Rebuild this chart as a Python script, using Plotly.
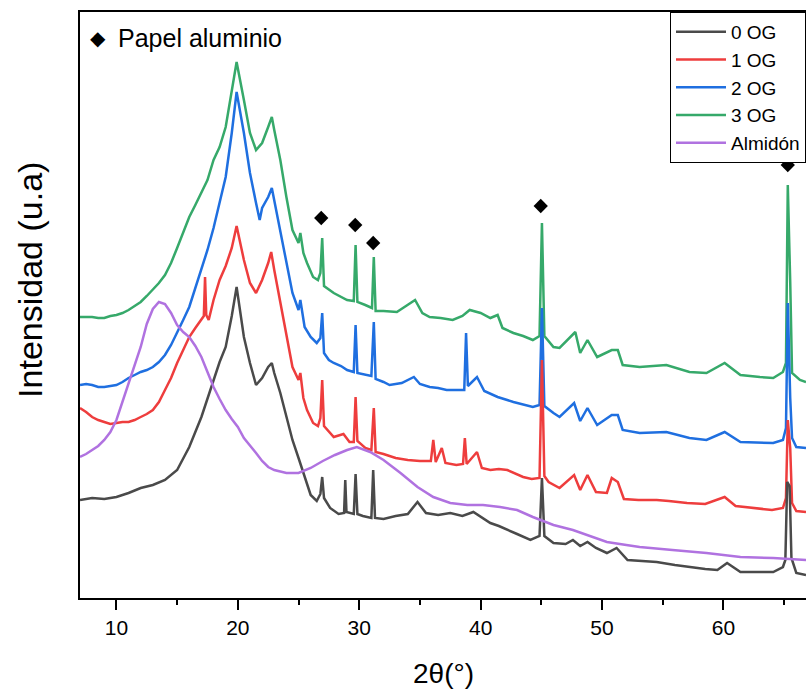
import plotly.graph_objects as go

# ---------------- data ----------------
x_0og = [7, 8, 9, 10, 11, 12, 13, 14, 15, 16, 17, 18, 18.5, 19, 19.5, 19.9, 20.5, 21, 21.5, 22, 22.5, 22.8, 23,
         23.5, 24, 24.5, 25, 25.5, 26, 26.5, 26.8, 26.95, 27.1, 27.6, 28.3, 28.75, 28.85, 28.95, 29.55, 29.7, 29.85,
         30.3, 31.0, 31.15, 31.3, 32, 33, 34, 34.8, 35.5, 36.5, 37.5, 38.5, 39.4, 40.2, 40.8, 41.5, 42.2, 43, 44.1,
         44.85, 45.05, 45.25, 46, 47, 47.6, 48.2, 48.8, 49.5, 50.4, 51.2, 52.1, 53, 54.5, 56, 57.2, 58.5, 59.5, 60.3,
         61.4, 62.5, 64.1, 64.9, 65.1, 65.25, 65.45, 65.6, 66, 66.8]
y_0og = [98, 100, 99, 101, 105, 110, 113, 118, 128, 151, 181, 218, 236, 251, 282, 311, 261, 235, 213, 220, 231, 235, 225,
         205, 182, 158, 140, 122, 103, 97, 104, 121, 100, 90, 84, 85, 118, 86, 84, 124, 84,
         82, 80, 128, 80, 79, 82, 84, 96, 85, 83, 85, 82, 86, 80, 75, 72, 68, 64, 58,
         62, 120, 62, 55, 54, 58, 52, 56, 50, 45, 50, 38, 37, 36, 33, 31, 29, 28, 35,
         26, 26, 26, 31, 38, 116, 112, 40, 25, 23]

x_1og = [7, 7.5, 8, 8.5, 9, 9.5, 10, 10.5, 11, 11.5, 12, 12.5, 13, 13.5, 14, 14.5, 15, 15.5, 16, 16.5, 17, 17.2, 17.3,
         17.4, 17.6, 18, 18.5, 19, 19.5, 19.9, 20.5, 21, 21.5, 22, 22.5, 22.75, 23, 23.5, 24, 24.5, 25, 25.15, 25.4,
         25.7, 26.2, 26.6, 26.8, 26.95, 27.1, 27.5, 27.9, 28.7, 29.2, 29.55, 29.7, 29.85, 30.5, 31.0, 31.2, 31.35, 32,
         33, 34, 35, 35.9, 36.1, 36.3, 36.8, 37.1, 38, 38.55, 38.7, 38.85, 39.7, 40.1, 40.8, 41.5, 42.2, 43, 43.5,
         44.2, 44.85, 45.05, 45.25, 45.6, 46.5, 47.7, 48.2, 48.8, 49.5, 50.4, 50.8, 51.3, 51.8, 53, 54.5, 55.5, 57,
         58.5, 60.1, 61, 62.5, 64, 64.9, 65.15, 65.3, 65.5, 65.65, 66, 66.8]
y_1og = [190, 186, 181, 178, 176, 174, 175, 176, 176, 178, 181, 184, 188, 196, 208, 220, 235, 248, 261, 270, 278, 282, 321,
         283, 278, 298, 318, 332, 350, 372, 338, 315, 305, 318, 335, 346, 328, 295, 261, 231, 218, 225, 200,
         188, 175, 172, 180, 218, 172, 166, 161, 164, 156, 156, 201, 157, 150, 148, 190, 146, 144,
         140, 138, 137, 137, 158, 136, 150, 135, 133, 134, 160, 134, 146, 130, 128, 129, 128, 124, 121,
         119, 120, 238, 122, 116, 110, 123, 108, 123, 106, 105, 120, 116, 99, 98, 98, 97, 95,
         94, 101, 92, 90, 88, 90, 100, 178, 150, 95, 87, 86]

x_2og = [7, 7.5, 8, 8.5, 9, 9.5, 10, 10.5, 11, 11.5, 12, 12.5, 13, 13.5, 14, 14.5, 15, 15.5, 16, 16.5, 17, 17.5, 18,
         18.5, 19, 19.5, 19.9, 20.5, 21, 21.5, 21.8, 22, 22.5, 22.8, 23, 23.5, 24, 24.5, 25, 25.15, 25.5, 26, 26.5,
         26.8, 26.95, 27.1, 27.5, 27.9, 28.5, 29, 29.55, 29.7, 29.85, 30.5, 31.0, 31.2, 31.35, 32, 32.5, 33.5, 34.5,
         35, 35.8, 36.5, 37.2, 38.3, 38.65, 38.8, 38.95, 39.7, 40.3, 41.4, 42.7, 44.3, 44.85, 45.05, 45.25, 46, 46.5,
         47.7, 48.2, 48.8, 49.6, 50.8, 51.3, 51.7, 53.1, 55.3, 57.2, 58.6, 60.1, 61.4, 63, 64.1, 64.9, 65.15, 65.3,
         65.5, 65.65, 66, 66.8]
y_2og = [213, 214, 213, 211, 211, 212, 213, 216, 220, 223, 226, 228, 231, 236, 243, 253, 265, 278, 291, 310, 328, 348, 370,
         395, 421, 465, 506, 465, 425, 395, 378, 390, 401, 410, 398, 368, 335, 305, 288, 298, 271, 261, 255,
         260, 285, 245, 238, 235, 232, 228, 226, 273, 225, 223, 222, 276, 219, 216, 213, 215, 221,
         214, 211, 210, 208, 208, 208, 265, 212, 221, 207, 201, 196, 191, 193, 290, 192, 185, 181,
         195, 177, 190, 173, 183, 183, 168, 165, 166, 160, 158, 166, 156, 155, 155, 158, 170, 295,
         200, 160, 151, 150]

x_3og = [7, 7.5, 8, 8.5, 9, 9.5, 10, 10.5, 11, 11.5, 12, 12.5, 13, 13.5, 14, 14.5, 15, 15.5, 16, 16.5, 17, 17.5, 18,
         18.5, 19, 19.5, 19.9, 20.5, 21, 21.5, 22, 22.5, 22.8, 23, 23.5, 24, 24.5, 25, 25.15, 25.4, 25.7, 26.2, 26.6,
         26.8, 26.95, 27.1, 27.9, 29, 29.55, 29.7, 29.85, 30.5, 31.05, 31.2, 31.35, 32, 33.1, 34.6, 35.2, 35.8, 36.7,
         37.7, 38.5, 39.1, 40, 40.8, 41.4, 41.8, 42.7, 43.5, 44.3, 44.85, 45.05, 45.25, 46, 46.5, 47.8, 48.2, 48.8,
         49.6, 50.8, 51.3, 51.7, 53.1, 55.3, 57.2, 58.6, 60.1, 61.4, 63, 64.1, 64.9, 65.15, 65.3, 65.42, 65.5, 65.65,
         66.3, 66.8]
y_3og = [281, 281, 281, 280, 280, 282, 283, 285, 288, 292, 296, 302, 308, 315, 323, 335, 350, 366, 381, 393, 405, 418, 438,
         451, 471, 508, 536, 498, 465, 448, 455, 471, 481, 468, 438, 401, 368, 355, 365, 345, 335, 321, 318,
         325, 360, 312, 305, 298, 297, 353, 296, 293, 290, 341, 287, 287, 286, 298, 285, 281, 280,
         278, 282, 288, 285, 280, 283, 270, 265, 262, 258, 262, 375, 262, 251, 250, 266, 245, 258,
         241, 248, 248, 233, 231, 233, 226, 225, 235, 223, 221, 220, 226, 235, 413, 330, 316, 225,
         218, 216]

x_alm = [7, 7.5, 8, 8.5, 9, 9.5, 10, 10.5, 11, 11.5, 12, 12.5, 13, 13.5, 14, 14.5, 15, 15.5, 16, 16.5, 17, 17.5, 18,
         18.5, 19, 19.5, 20, 20.5, 21, 21.5, 22, 22.5, 23, 24, 25, 26, 27, 28, 29, 29.8, 30.9, 32, 33.4, 34.8, 36.1,
         37.5, 38.9, 40.2, 41.6, 43, 44.3, 45, 46, 47.6, 49, 50.4, 52, 53.1, 55.8, 58.6, 61.4, 64.1, 66.8]
y_alm = [141, 144, 148, 152, 158, 166, 178, 196, 215, 234, 251, 274, 289, 296, 294, 285, 273, 266, 261, 252, 241, 226, 211,
         199, 188, 179, 171, 160, 153, 145, 137, 131, 128, 125, 125, 130, 137, 143, 148, 151, 146, 138, 125, 111, 101,
         95, 93, 93, 91, 88, 81, 78, 73, 68, 62, 56, 53, 51, 48, 45, 41, 40, 38]

# aluminium-foil reflections marked with diamonds
foil_x = [26.87, 29.67, 31.15, 44.95, 65.3]
foil_y = [380, 373, 355, 392, 433]

x_ticks = [10, 20, 30, 40, 50, 60]

series = [
    ("3 OG", x_3og, y_3og, "#36a96a", 4),
    ("2 OG", x_2og, y_2og, "#1f6fe0", 3),
    ("1 OG", x_1og, y_1og, "#ee3d3d", 2),
    ("0 OG", x_0og, y_0og, "#4a4a4a", 1),
    ("Almidón", x_alm, y_alm, "#b072e0", 5),
]

FONT = "Liberation Sans, Arial, sans-serif"

fig = go.Figure()
for name, xs, ys, col, rank in series:
    fig.add_trace(go.Scatter(x=xs, y=ys, mode="lines", name=name, legendrank=rank,
                             line=dict(color=col, width=2.5)))

fig.add_trace(go.Scatter(x=foil_x, y=foil_y, mode="markers", showlegend=False,
                         marker=dict(symbol="diamond", size=11, color="black")))

fig.update_layout(
    width=806, height=692,
    margin=dict(l=80, r=0, t=12, b=94),
    paper_bgcolor="white", plot_bgcolor="white",
    font=dict(family=FONT, color="black"),
    showlegend=True,
    legend=dict(x=1, y=1, xanchor="right", yanchor="top",
                bordercolor="black", borderwidth=1, bgcolor="white",
                font=dict(size=19, family=FONT), tracegroupgap=0,
                itemwidth=50),
    xaxis=dict(range=[7, 66.8], tickvals=x_ticks, ticks="outside", ticklen=10, tickwidth=2,
               tickcolor="black", showline=True, linecolor="black", linewidth=2, mirror=True,
               showgrid=False, zeroline=False, tickfont=dict(size=21, family=FONT),
               minor=dict(dtick=5, tick0=5, ticks="outside", ticklen=5, tickwidth=2, tickcolor="black",
                          showgrid=False)),
    yaxis=dict(range=[0, 586], showticklabels=False, ticks="", showline=True, linecolor="black",
               linewidth=2, showgrid=False, zeroline=False),
    annotations=[
        dict(text="2θ(°)", xref="paper", yref="paper", x=0.501, y=-0.128, xanchor="center",
             yanchor="middle", showarrow=False, font=dict(size=28, family=FONT)),
        dict(text="Intensidad (u.a)", xref="paper", yref="paper", x=-0.069, y=0.5427, xanchor="center",
             yanchor="middle", textangle=-90, showarrow=False, font=dict(size=34, family=FONT)),
        dict(text="◆", xref="paper", yref="paper", x=0.0105, y=0.955, xanchor="left", yanchor="middle",
             showarrow=False, font=dict(size=20, family="DejaVu Sans")),
        dict(text="Papel aluminio", xref="paper", yref="paper", x=0.049, y=0.955, xanchor="left",
             yanchor="middle", showarrow=False, font=dict(size=25, family=FONT)),
    ],
)

fig.write_html("out.html")
